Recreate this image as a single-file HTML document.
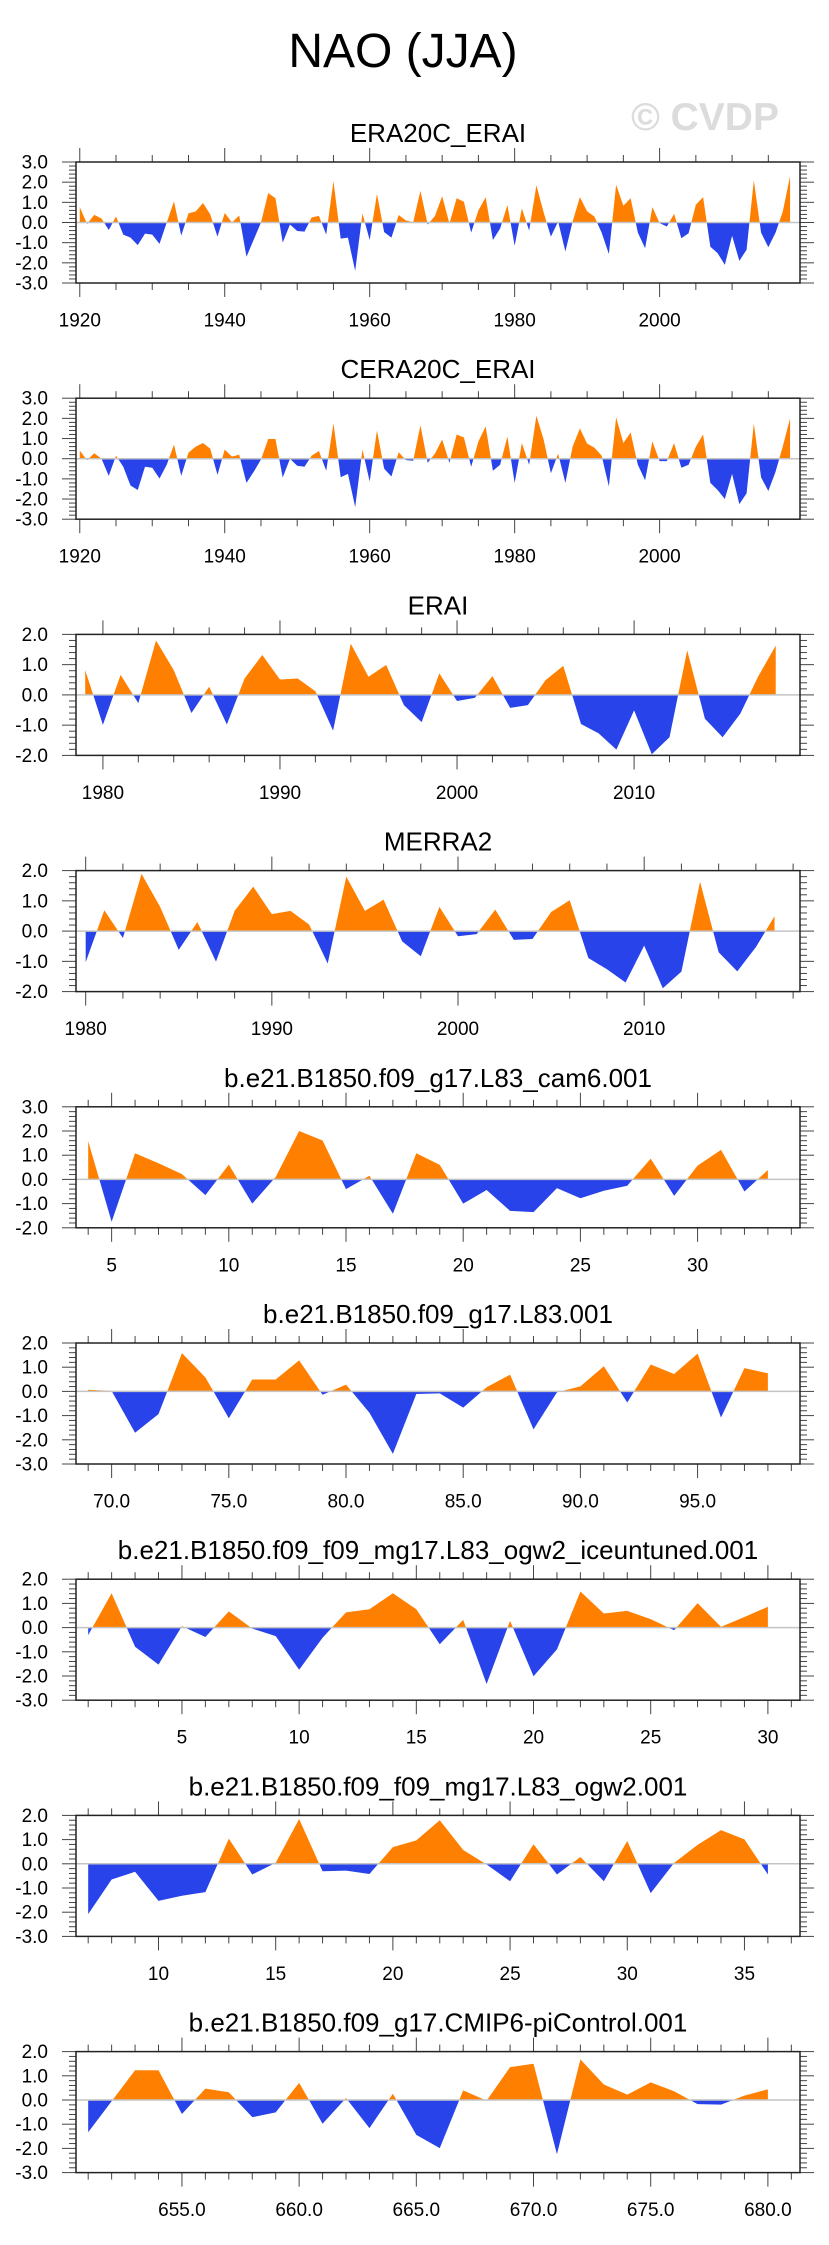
<!DOCTYPE html>
<html><head><meta charset="utf-8"><style>
html,body{margin:0;padding:0;background:#fff;}
svg{display:block;font-family:"Liberation Sans",Arial,sans-serif;}
</style></head><body>
<svg id="chart" width="829" height="2245" viewBox="0 0 829 2245" xmlns="http://www.w3.org/2000/svg">
<text x="403" y="67" font-size="48" text-anchor="middle" fill="#000">NAO (JJA)</text>
<text x="779" y="130" font-size="39" font-weight="bold" text-anchor="end" fill="#dcdcdc">© CVDP</text>
</svg>
<script>
const titles = ["ERA20C_ERAI","CERA20C_ERAI","ERAI","MERRA2","b.e21.B1850.f09_g17.L83_cam6.001","b.e21.B1850.f09_g17.L83.001","b.e21.B1850.f09_f09_mg17.L83_ogw2_iceuntuned.001","b.e21.B1850.f09_f09_mg17.L83_ogw2.001","b.e21.B1850.f09_g17.CMIP6-piControl.001"];
const startX = [1920,1920,1979,1980,4,69,1,7,651];
const era20c = [0.76,-0.07,0.38,0.2,-0.37,0.3,-0.6,-0.75,-1.12,-0.55,-0.6,-1.06,0.0,1.05,-0.65,0.45,0.55,0.97,0.4,-0.7,0.47,0.0,0.35,-1.7,-0.85,0.0,1.46,1.2,-1.0,-0.1,-0.42,-0.45,0.25,0.33,-0.6,2.05,-0.8,-0.75,-2.4,0.45,-0.87,1.42,-0.48,-0.75,0.37,0.1,0.02,1.57,-0.1,0.32,1.3,-0.05,1.2,1.03,-0.5,0.6,1.25,-0.87,-0.3,0.87,-1.15,0.7,-0.4,1.85,0.5,-0.7,0.05,-1.44,0.05,1.26,0.55,0.3,-0.5,-1.56,1.87,0.83,1.2,-0.5,-1.28,0.76,-0.03,-0.2,0.43,-0.78,-0.53,0.88,1.26,-1.2,-1.52,-2.1,-0.66,-1.9,-1.35,2.09,-0.5,-1.23,-0.5,0.55,2.3];
const cera20c = [0.4,-0.07,0.27,0.0,-0.85,0.15,-0.4,-1.33,-1.55,-0.4,-0.45,-0.98,-0.3,0.7,-0.85,0.3,0.6,0.78,0.5,-0.8,0.45,0.1,0.2,-1.2,-0.65,-0.04,0.98,0.98,-0.93,0.0,-0.35,-0.4,0.15,0.38,-0.6,1.75,-0.92,-0.75,-2.4,0.45,-1.13,1.4,-0.5,-0.88,0.32,-0.07,-0.1,1.65,-0.2,0.25,0.95,-0.2,1.2,1.05,-0.4,0.85,1.6,-0.6,-0.3,1.1,-1.2,0.77,-0.3,2.13,0.95,-0.72,0.25,-1.2,0.6,1.5,0.75,0.55,0.15,-1.37,2.05,0.78,1.3,-0.3,-1.07,0.85,-0.12,-0.12,0.77,-0.45,-0.3,0.6,1.2,-1.2,-1.55,-2.0,-0.75,-2.25,-1.72,1.75,-0.93,-1.6,-0.65,0.62,2.0];
const erai = [0.82,-0.99,0.66,-0.27,1.8,0.82,-0.6,0.27,-0.98,0.54,1.32,0.51,0.54,0.12,-1.18,1.69,0.6,0.99,-0.34,-0.9,0.71,-0.2,-0.1,0.62,-0.43,-0.34,0.49,0.96,-0.96,-1.27,-1.81,-0.51,-1.96,-1.4,1.47,-0.79,-1.4,-0.62,0.6,1.63];
const merra2 = [-1.03,0.69,-0.23,1.89,0.8,-0.62,0.3,-1.01,0.67,1.47,0.56,0.67,0.22,-1.07,1.8,0.67,1.04,-0.34,-0.83,0.8,-0.17,-0.1,0.71,-0.29,-0.26,0.63,1.02,-0.89,-1.26,-1.7,-0.48,-1.89,-1.34,1.63,-0.7,-1.33,-0.53,0.49];
const cam6 = [1.58,-1.75,1.08,0.67,0.22,-0.65,0.61,-1.0,0.1,2.0,1.61,-0.4,0.15,-1.42,1.08,0.6,-1.0,-0.44,-1.3,-1.35,-0.36,-0.78,-0.47,-0.26,0.86,-0.68,0.57,1.22,-0.5,0.39];
const l83 = [0.07,0.02,-1.71,-0.94,1.58,0.58,-1.11,0.49,0.49,1.28,-0.14,0.28,-0.88,-2.58,-0.11,-0.08,-0.67,0.17,0.69,-1.57,-0.04,0.21,1.04,-0.46,1.11,0.72,1.56,-1.08,0.96,0.75];
const ogw2ice = [-0.31,1.42,-0.79,-1.53,0.06,-0.39,0.67,-0.04,-0.35,-1.74,-0.42,0.63,0.76,1.42,0.76,-0.69,0.32,-2.33,0.28,-2.01,-0.9,1.49,0.58,0.69,0.35,-0.11,1.01,0.03,0.44,0.86];
const ogw2 = [-2.08,-0.65,-0.33,-1.53,-1.32,-1.17,1.04,-0.44,0.04,1.85,-0.31,-0.28,-0.42,0.69,0.97,1.8,0.57,-0.03,-0.72,0.81,-0.44,0.28,-0.72,0.94,-1.21,0.04,0.78,1.39,1.01,-0.44];
const picontrol = [-1.33,-0.05,1.23,1.23,-0.58,0.47,0.32,-0.71,-0.51,0.71,-0.98,0.08,-1.16,0.26,-1.44,-1.99,0.4,-0.03,1.36,1.5,-2.24,1.68,0.64,0.22,0.73,0.36,-0.17,-0.19,0.18,0.44];
const series = [era20c,cera20c,erai,merra2,cam6,l83,ogw2ice,ogw2,picontrol];
const yMinVals = [-3,-3,-2,-2,-2,-3,-3,-3,-3];
const yMaxVals = [3,3,2,2,3,2,2,2,2];
const xMajorStep = [20,20,10,10,5,5,5,5,5];
const xMinorStep = [5,5,2,2,1,1,1,1,1];
const xLabelFirst = [1920,1920,1980,1980,5,70,5,10,655];
const xLabelDecimals = [0,0,0,0,0,1,0,0,1];

const NS="http://www.w3.org/2000/svg";
const svg=document.getElementById('chart');
function mk(tag,attrs,parent){const e=document.createElementNS(NS,tag);for(const k in attrs)e.setAttribute(k,attrs[k]);(parent||svg).appendChild(e);return e;}
const L=76,R=800,H=121;
series.forEach((vals,p)=>{
  const top=162+236.2*p, bot=top+H;
  const x0=startX[p], x1=x0+vals.length-1;
  const xmin=x0-0.52, xmax=x1+1.37;
  const ymin=yMinVals[p], ymax=yMaxVals[p];
  const xs=v=>L+(v-xmin)/(xmax-xmin)*(R-L);
  const ys=v=>bot-(v-ymin)/(ymax-ymin)*H;
  const g=mk('g',{});
  
  
  const t=mk('text',{x:(L+R)/2,y:top-20,'font-size':26,'text-anchor':'middle',fill:'#000'},g);
  
  
  t.textContent=titles[p];
  const y0=ys(0);
  const cpU=mk('clipPath',{id:'cu'+p},g);mk('rect',{x:L,y:top,width:R-L,height:y0-top},cpU);
  const cpD=mk('clipPath',{id:'cd'+p},g);mk('rect',{x:L,y:y0,width:R-L,height:bot-y0},cpD);
  let d='M'+xs(x0)+','+y0;
  vals.forEach((v,i)=>{d+=' L'+xs(x0+i).toFixed(2)+','+ys(v).toFixed(2);});
  d+=' L'+xs(x1)+','+y0+' Z';
  const pu=mk('path',{d:d,fill:'#FF8000','clip-path':'url(#cu'+p+')'},g);
  
  
  const pd=mk('path',{d:d,fill:'#2843EA','clip-path':'url(#cd'+p+')'},g);
  
  
  const zl=mk('line',{x1:L,x2:R,y1:y0,y2:y0,stroke:'#c4c4c4','stroke-width':1.5},g);
  
  
  for(let k=Math.round(ymin*5);k<=Math.round(ymax*5);k++){
    const v=k/5, y=ys(v), major=(k%5===0), len=major?14:7;
    mk('line',{x1:L-len,x2:L,y1:y,y2:y,stroke:'#444','stroke-width':1},g);
    mk('line',{x1:R,x2:R+len,y1:y,y2:y,stroke:'#444','stroke-width':1},g);
    if(major){
      const lb=mk('text',{x:48,y:y+6.5,'font-size':19,'text-anchor':'end',fill:'#000'},g);
      
      
      lb.textContent=v.toFixed(1);
    }
  }
  const ms=xMinorStep[p], MS=xMajorStep[p];
  for(let v=Math.ceil(xmin/ms)*ms; v<=xmax; v+=ms){
    const x=xs(v), major=(((v-xLabelFirst[p])%MS)+MS)%MS===0, len=major?14:7;
    mk('line',{x1:x,x2:x,y1:top-len,y2:top,stroke:'#444','stroke-width':1},g);
    mk('line',{x1:x,x2:x,y1:bot,y2:bot+len,stroke:'#444','stroke-width':1},g);
    if(major){
      const lb=mk('text',{x:x,y:bot+43.5,'font-size':19,'text-anchor':'middle',fill:'#000'},g);
      
      
      lb.textContent=v.toFixed(xLabelDecimals[p]);
    }
  }
  const fr=mk('rect',{x:L,y:top,width:R-L,height:H,fill:'none',stroke:'#222','stroke-width':1.5},g);
  
  
});
</script>
</body></html>
